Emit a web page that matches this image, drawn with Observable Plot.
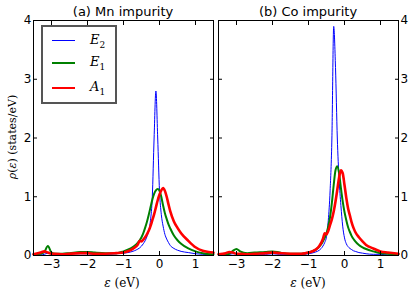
<!DOCTYPE html>
<html><head><meta charset="utf-8">
<script src="https://cdn.jsdelivr.net/npm/d3@7"></script>
<script src="https://cdn.jsdelivr.net/npm/@observablehq/plot@0.6"></script>
<style>
body{margin:0;background:#fff;}
#wrap{position:relative;width:415px;height:295px;overflow:hidden;font-family:"DejaVu Sans",sans-serif;color:#000;}
.p{position:absolute;top:0;}
.t{position:absolute;white-space:nowrap;transform:translate(-50%,-50%);line-height:1;}
.m{font-family:"DejaVu Serif",serif;font-size:12px;}
.m i{font-style:italic;}
#legend{position:absolute;left:41px;top:25px;width:76px;height:79px;box-sizing:border-box;border:2px solid #555;background:#fff;}
.lrow{position:absolute;left:9px;}
.lline{position:absolute;left:0;width:23px;}
.ltxt{position:absolute;left:38px;font-family:"DejaVu Serif",serif;font-style:italic;font-size:13px;line-height:1;}
.ltxt sub{font-style:normal;font-size:9px;}
</style></head><body><div id="wrap"></div>
<script>
// energy grid (eV)
const energy = [-3.5,-3.3,-3.2,-3.1,-3.0,-2.9,-2.7,-2.5,-2.2,-2.0,-1.8,-1.5,-1.2,-1.0,-0.8,-0.7,-0.6,-0.55,-0.5,-0.45,-0.4,-0.35,-0.3,-0.25,-0.2,-0.15,-0.1,-0.05,0,0.05,0.1,0.15,0.2,0.25,0.3,0.4,0.5,0.6,0.8,1.0,1.2,1.5];
// (a) Mn impurity
const mnE2 = [.01,.01,.02,.04,.02,.01,.02,.03,.03,.03,.02,.02,.03,.04,.06,.08,.11,.13,.16,.2,.25,.32,.42,.6,1.0,2.0,2.8,2.0,1.1,.7,.5,.36,.28,.22,.17,.12,.09,.07,.05,.03,.02,.01];
const mnE1 = [.02,.03,.06,.16,.05,.03,.03,.04,.06,.06,.05,.04,.04,.07,.12,.16,.22,.26,.31,.38,.47,.57,.69,.82,.95,1.05,1.11,1.13,1.1,1.0,.85,.72,.62,.53,.46,.34,.26,.2,.12,.07,.04,.02];
const mnA1 = [.02,.05,.07,.05,.03,.03,.02,.03,.04,.04,.03,.03,.04,.05,.09,.13,.19,.25,.24,.27,.31,.36,.42,.5,.6,.7,.82,.94,1.04,1.11,1.15,1.1,1.0,.87,.75,.58,.47,.38,.25,.14,.08,.05];
// (b) Co impurity
const coE2 = [.01,.01,.02,.03,.03,.02,.01,.02,.02,.03,.02,.02,.02,.03,.06,.09,.16,.22,.32,.6,1.1,2.0,3.9,3.2,2.0,1.3,.85,.5,.3,.2,.15,.12,.1,.08,.07,.05,.04,.03,.02,.02,.01,.01];
const coE1 = [.02,.02,.03,.08,.11,.07,.04,.05,.06,.07,.05,.03,.03,.05,.1,.15,.24,.3,.38,.5,.66,.9,1.2,1.45,1.52,1.4,1.15,.92,.74,.6,.48,.4,.33,.28,.24,.18,.14,.11,.07,.04,.03,.02];
const coA1 = [.02,.04,.06,.05,.03,.03,.02,.03,.04,.05,.04,.03,.03,.05,.1,.16,.28,.38,.36,.42,.52,.62,.75,.92,1.12,1.33,1.45,1.4,1.2,.98,.8,.68,.56,.47,.4,.31,.24,.18,.12,.07,.05,.03];
const seriesNames = ["E2","E1","A1"];
const xTicks = [-3,-2,-1,0,1];
const yTicks = [0,1,2,3,4];
const titles = ["(a) Mn impurity","(b) Co impurity"];

const styles = {E2:{stroke:"#0000ff",w:1,lw:1},E1:{stroke:"#008000",w:2,lw:2},A1:{stroke:"#ff0000",w:2.6,lw:2}};
const fmt = d => d<0 ? "\u2212"+(-d) : String(d);

function panel(vals, o){
  const lines = seriesNames.map((n,k)=>{
    const d = energy.map((e,i)=>({e, rho: vals[k][i]}));
    return Plot.line(d,{x:"e",y:"rho",stroke:styles[n].stroke,strokeWidth:styles[n].w,curve:"monotone-x"});
  });
  return Plot.plot({
    width:o.width,height:295,marginLeft:o.ml,marginRight:o.mr,marginTop:20,marginBottom:40,
    x:{domain:[-3.5,1.5]},y:{domain:[0,4]},
    style:{fontFamily:"DejaVu Sans",fontSize:"12px",background:"transparent",overflow:"visible"},
    marks:[
      ...lines,
      Plot.axisX({anchor:"bottom",ticks:xTicks,tickSize:-4,tickPadding:8,label:null,tickFormat:fmt}),
      Plot.axisX({anchor:"top",ticks:xTicks,tickSize:-4,fill:"none",label:null}),
      Plot.axisY({anchor:"left",ticks:yTicks,tickSize:-4,tickPadding:6,label:null,tickFormat:fmt,fill:o.left?"currentColor":"none"}),
      Plot.axisY({anchor:"right",ticks:yTicks,tickSize:-4,tickPadding:6,label:null,tickFormat:fmt,fill:o.left?"none":"currentColor"}),
      Plot.frame({stroke:"#000",strokeWidth:1})
    ]
  });
}
const wrap = document.getElementById("wrap");
const p1 = panel([mnE2,mnE1,mnA1],{width:216,ml:33,mr:3,left:true});
p1.classList.add("p"); p1.style.left="0px";
const p2 = panel([coE2,coE1,coA1],{width:210,ml:13,mr:17,left:false});
p2.classList.add("p"); p2.style.left="205px";
wrap.append(p1,p2);

function addText(html,x,y,cls,extra){
  const d=document.createElement("div");
  d.className="t "+(cls||"");
  d.innerHTML=html;
  d.style.left=x+"px";d.style.top=y+"px";
  if(extra) Object.assign(d.style,extra);
  wrap.append(d);
}
addText(titles[0],123,11,"",{fontSize:"13px"});
addText(titles[1],308,11,"",{fontSize:"13px"});
addText("<i>\u03b5</i> (eV)",122,283,"m");
addText("<i>\u03b5</i> (eV)",308,283,"m");
addText("<i>\u03c1</i>(<i>\u03b5</i>) (states/eV)",12,137,"m",{fontSize:"11px",transform:"translate(-50%,-50%) rotate(-90deg)"});

// legend
const lg=document.createElement("div"); lg.id="legend";
const lab={E2:["E","2"],E1:["E","1"],A1:["A","1"]};
const rowsY=[14,36,61];
seriesNames.forEach((n,k)=>{
  const r=document.createElement("div"); r.className="lrow"; r.style.top=rowsY[k]+"px";
  const l=document.createElement("div"); l.className="lline";
  l.style.background=styles[n].stroke; l.style.height=styles[n].lw+"px";
  l.style.top=(-Math.round(styles[n].lw/2))+"px";
  const t=document.createElement("div"); t.className="ltxt"; t.style.top="-8px";
  t.innerHTML=lab[n][0]+"<sub>"+lab[n][1]+"</sub>";
  r.append(l,t); lg.append(r);
});
wrap.append(lg);
</script></body></html>
